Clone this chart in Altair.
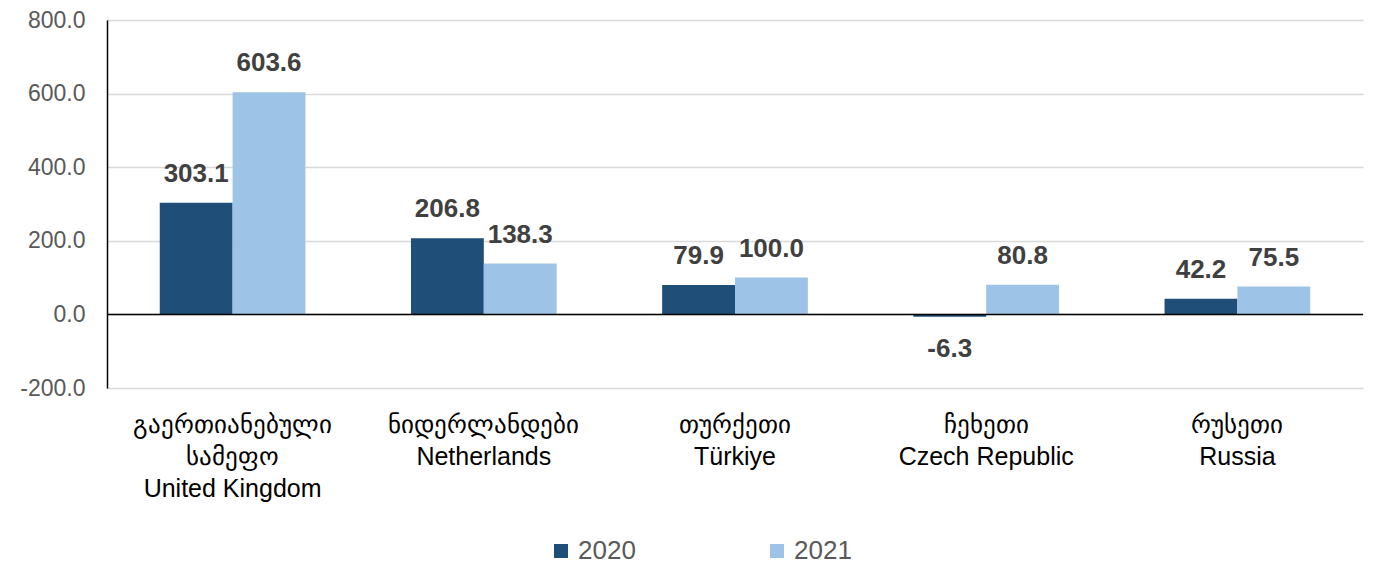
import altair as alt
import pandas as pd

countries_ka = ["გაერთიანებული|სამეფო", "ნიდერლანდები", "თურქეთი", "ჩეხეთი", "რუსეთი"]
countries_en = ["United Kingdom", "Netherlands", "Türkiye", "Czech Republic", "Russia"]
years = ["2020", "2021"]
values_2020 = [303.1, 206.8, 79.9, -6.3, 42.2]
values_2021 = [603.6, 138.3, 100.0, 80.8, 75.5]
y_ticks = [-200, 0, 200, 400, 600, 800]

cats = [f"{ka}|{en}" for ka, en in zip(countries_ka, countries_en)]
rows = []
for c, v in zip(cats, values_2020):
    rows.append({"cat": c, "year": "2020", "value": v})
for c, v in zip(cats, values_2021):
    rows.append({"cat": c, "year": "2021", "value": v})
df = pd.DataFrame(rows)
df["label"] = df["value"].map(lambda v: f"{v:.1f}")

colors = ["#1f4e79", "#9dc3e6"]

x_enc = alt.X("cat:N", sort=cats, title=None,
              scale=alt.Scale(paddingInner=0.42, paddingOuter=0.21),
              axis=alt.Axis(labelExpr="split(datum.label, '|')", labelAngle=0,
                            labelFontSize=25, labelColor="#000000", labelLineHeight=32,
                            labelPadding=24, labelLimit=0, domain=False, ticks=False,
                            grid=False, labelFont="Liberation Sans", labelBaseline="top"))
xoff = alt.XOffset("year:N", sort=years, scale=alt.Scale(paddingInner=0, paddingOuter=0))
y_enc = alt.Y("value:Q", title=None,
              scale=alt.Scale(domain=[-200, 800], nice=False),
              axis=alt.Axis(values=y_ticks, labelExpr="replace(format(datum.value, '.1f'), '\u2212', '-')",
                            labelFontSize=23, labelColor="#595959", labelPadding=22,
                            ticks=False, domain=True, domainColor="#000000", domainWidth=1.5,
                            grid=True, gridColor="#d9d9d9", gridWidth=1.3,
                            labelFont="Liberation Sans"))

base = alt.Chart(df)

bars = base.mark_bar().encode(
    x=x_enc, xOffset=xoff, y=y_enc,
    color=alt.Color("year:N", sort=years,
                    scale=alt.Scale(domain=years, range=colors),
                    legend=alt.Legend(title=None, orient="none", direction="horizontal",
                                      legendX=441, legendY=518, symbolType="square",
                                      symbolSize=196, symbolStrokeWidth=0,
                                      labelFontSize=26, labelColor="#595959",
                                      labelFont="Liberation Sans", columnPadding=128,
                                      labelOffset=4)),
)

text_pos = base.transform_filter("datum.value >= 0").mark_text(
    fontSize=26, fontWeight="bold", color="#404040", dy=-29, baseline="middle",
    font="Liberation Sans"
).encode(x=alt.X("cat:N", sort=cats), xOffset=xoff, y="value:Q", text="label:N")

text_neg = base.transform_filter("datum.value < 0").mark_text(
    fontSize=26, fontWeight="bold", color="#404040", dy=32, baseline="middle",
    font="Liberation Sans"
).encode(x=alt.X("cat:N", sort=cats), xOffset=xoff, y="value:Q", text="label:N")

zero = alt.Chart(pd.DataFrame({"z": [0]})).mark_rule(color="#000000", strokeWidth=1.5).encode(
    y=alt.Y("z:Q")
)

chart = alt.layer(bars, zero, text_pos, text_neg).properties(
    width=1256, height=368,
    autosize=alt.AutoSizeParams(type="none"),
    padding={"left": 99, "top": 12, "right": 12, "bottom": 180},
).configure_view(stroke=None)

chart.save("out.html", embed_options={"renderer": "svg", "actions": False})
